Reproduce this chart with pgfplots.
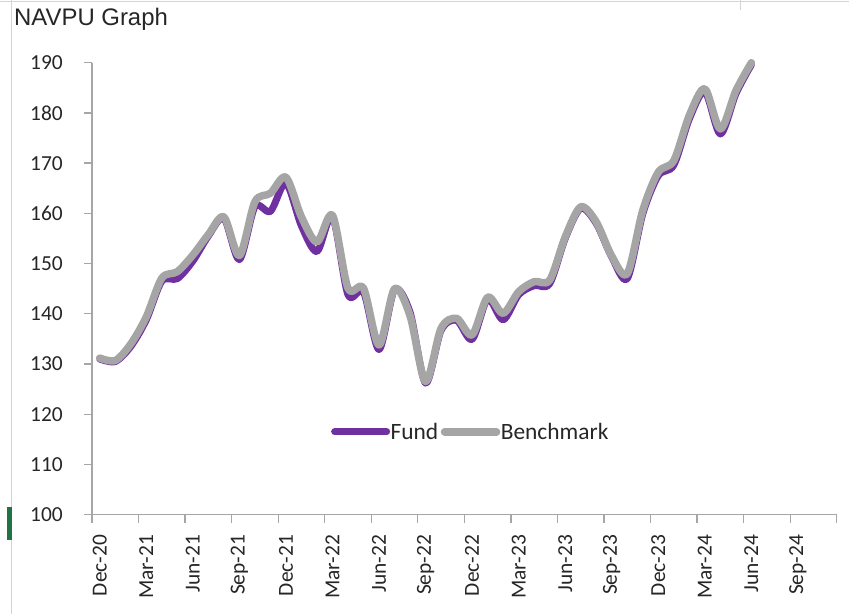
\documentclass[border=0pt]{standalone}
\usepackage{fontspec}
\setmainfont{Carlito}
\newfontfamily\titlefont{Liberation Sans}
\usepackage{pgfplots}
\usepackage{pgfplotstable}
\pgfplotsset{compat=1.18}

\definecolor{fundpurple}{HTML}{7030A0}
\definecolor{benchgray}{HTML}{A5A5A5}
\definecolor{axisgray}{HTML}{A6A6A6}
\definecolor{cellgray}{HTML}{D4D4D4}
\definecolor{xlgreen}{HTML}{217346}
\definecolor{txt}{HTML}{262626}

% month index: 0 = Dec-20
\pgfplotstableread{
m  fund   bench
0  131.0  131.2
1  130.5  130.7
2  133.5  134.0
3  138.8  139.4
4  146.5  147.1
5  147.0  148.4
6  150.5  151.7
7  155.5  155.8
8  159.0  159.3
9  150.8  151.6
10 161.3  162.3
11 160.4  164.0
12 166.0  167.2
13 157.5  159.3
14 152.4  154.3
15 159.3  159.6
16 143.8  145.1
17 144.3  145.1
18 132.9  133.8
19 144.8  145.0
20 140.3  139.6
21 126.2  126.5
22 136.7  137.1
23 138.7  139.1
24 134.9  135.8
25 142.9  143.3
26 138.8  140.1
27 143.8  144.4
28 145.6  146.4
29 146.0  146.7
30 155.0  155.3
31 161.0  161.3
32 158.0  158.3
33 151.3  151.5
34 147.0  148.0
35 159.9  160.6
36 167.5  168.2
37 169.6  170.5
38 178.8  179.5
39 184.2  184.8
40 175.8  176.8
41 183.8  184.4
42 189.6  190.0
}\navpu

\begin{document}
\begin{tikzpicture}
\path[use as bounding box] (0bp,0bp) rectangle (849bp,614bp);
% worksheet edges behind the chart
\draw[cellgray, line width=1bp] (11.7bp,0bp) -- (11.7bp,614bp);
\draw[cellgray, line width=1bp] (0bp,612.5bp) -- (849bp,612.5bp);
\draw[cellgray, line width=1bp] (740bp,614bp) -- (740bp,604bp);
\fill[xlgreen] (7.3bp,74bp) rectangle (12.2bp,107bp);
\node[anchor=base west, inner sep=0pt, text=txt,
      font=\titlefont\fontsize{24}{28}\selectfont] at (14bp,588bp) {NAVPU Graph};

\begin{axis}[
  at={(92bp,99.3bp)}, anchor=south west,
  scale only axis, width=744.7bp, height=452bp,
  xmin=-0.5, xmax=47.5, ymin=100, ymax=190,
  axis x line*=bottom, axis y line*=left,
  axis line style={axisgray, line width=1.3bp},
  tick align=outside, major tick length=8bp,
  tick style={axisgray, line width=1.3bp},
  ytick={100,110,...,190},
  xtick={-0.5,2.5,...,47.5}, xticklabels={},
  extra x ticks={0,3,...,45},
  extra x tick labels={Dec-20,Mar-21,Jun-21,Sep-21,Dec-21,Mar-22,Jun-22,Sep-22,
    Dec-22,Mar-23,Jun-23,Sep-23,Dec-23,Mar-24,Jun-24,Sep-24},
  extra x tick style={xtick style={draw=none}},
  /pgf/number format/assume math mode=true,
  tick label style={font=\fontsize{21.5}{25}\selectfont, text=txt, inner sep=0pt},
  yticklabel style={anchor=east},
  yticklabel shift=21bp,
  xticklabel style={rotate=90, anchor=east},
  xticklabel shift=12bp,
  clip=false,
  legend columns=2,
  legend style={at={(axis description cs:0.5076,0.1835)}, anchor=center,
    draw=none, fill=none, text=txt, font=\fontsize{23.5}{27}\selectfont,
    inner sep=0pt, nodes={inner sep=0.5bp},
    /tikz/every even column/.append style={column sep=2bp}},
  legend image code/.code={\draw[#1] (0bp,0bp) -- (52bp,0bp);},
]
\addplot[fundpurple, line width=7bp, line cap=round, line join=round, smooth, tension=0.5]
  table[x=m, y=fund] {\navpu};
\addlegendentry{Fund}
\addplot[benchgray, line width=7.5bp, line cap=round, line join=round, smooth, tension=0.5]
  table[x=m, y=bench] {\navpu};
\addlegendentry{Benchmark}
\end{axis}
\end{tikzpicture}
\end{document}
